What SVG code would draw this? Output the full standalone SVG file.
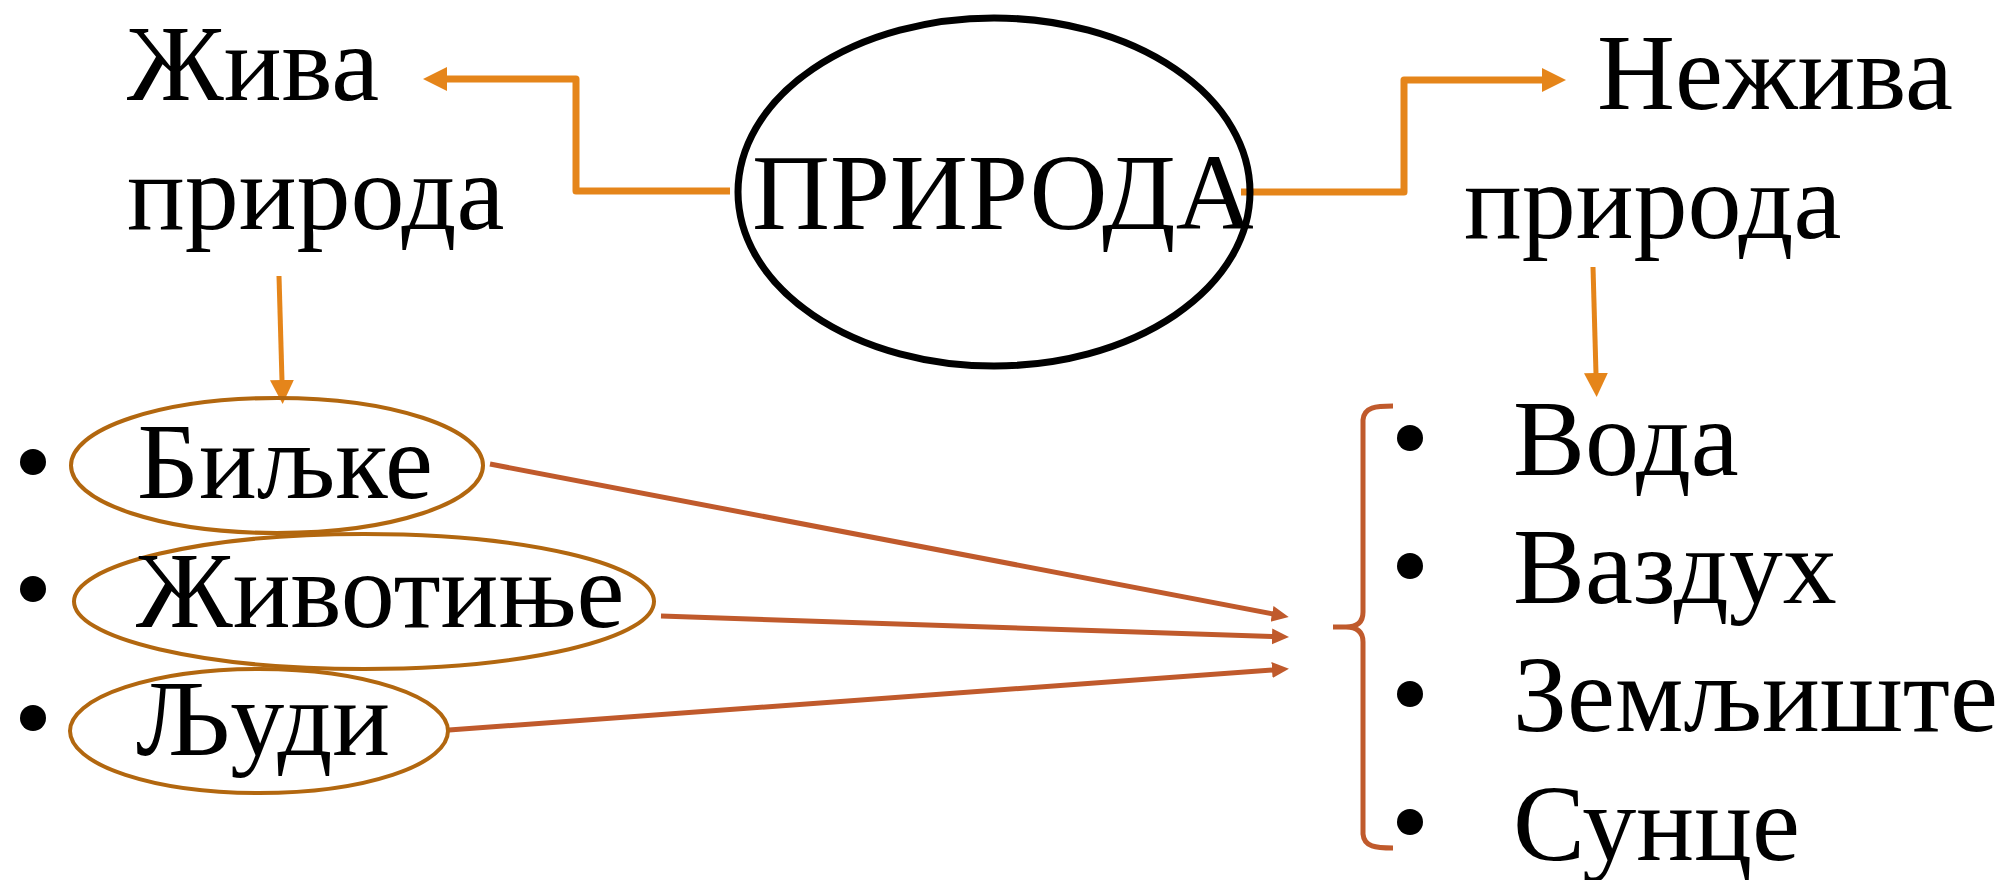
<svg xmlns="http://www.w3.org/2000/svg" width="1997" height="880" viewBox="0 0 1997 880">
<style>
.t{font-family:"Liberation Serif","Times New Roman",serif;font-size:108px;fill:#000}
.oc{fill:none;stroke:#E5851A;stroke-linejoin:round}
.bc{fill:none;stroke:#C05A2C;stroke-width:5}
.be{fill:none;stroke:#B2670F;stroke-width:4}
.dot{fill:#000}
</style>
<defs>
<marker id="oh" markerUnits="userSpaceOnUse" markerWidth="26" markerHeight="26" refX="1" refY="12" orient="auto">
<path d="M0,0 L24,12 L0,24 z" fill="#E5851A"/>
</marker>
<marker id="bh" markerUnits="userSpaceOnUse" markerWidth="20" markerHeight="20" refX="1" refY="8" orient="auto">
<path d="M0,0 L17,8 L0,16 z" fill="#C05A2C"/>
</marker>
</defs>
<rect width="1997" height="880" fill="#fff"/>
<g id="connectors">
<path class="oc" stroke-width="7" d="M730,191 H576 V79 H446" marker-end="url(#oh)"/>
<path class="oc" stroke-width="7" d="M1241,192 H1404 V80 H1543" marker-end="url(#oh)"/>
<path class="oc" stroke-width="5" d="M279,276 L282,381" marker-end="url(#oh)"/>
<path class="oc" stroke-width="5" d="M1593,267 L1596,374" marker-end="url(#oh)"/>
<path class="bc" d="M490,464 L1273,614" marker-end="url(#bh)"/>
<path class="bc" d="M661,616 L1273,636.5" marker-end="url(#bh)"/>
<path class="bc" d="M449,730 L1273,670" marker-end="url(#bh)"/>
</g>
<g id="priroda">
<ellipse cx="994" cy="192" rx="256" ry="174" fill="none" stroke="#000" stroke-width="7"/>
<text class="t" x="752" y="229">ПРИРОДА</text>
</g>
<g id="ziva">
<text class="t" x="127" y="100">Жива</text>
<text class="t" x="127" y="229">природа</text>
</g>
<g id="neziva">
<text class="t" x="1597" y="109">Нежива</text>
<text class="t" x="1464" y="238">природа</text>
</g>
<g id="biljke">
<circle class="dot" cx="33" cy="462" r="13"/>
<ellipse class="be" cx="277" cy="465.5" rx="206" ry="67.5"/>
<text class="t" x="137" y="498">Биљке</text>
</g>
<g id="zivotinje">
<circle class="dot" cx="33" cy="589" r="13"/>
<ellipse class="be" cx="364" cy="601.5" rx="290" ry="67.5"/>
<text class="t" x="136" y="627">Животиње</text>
</g>
<g id="ljudi">
<circle class="dot" cx="33" cy="718" r="13"/>
<ellipse class="be" cx="259" cy="731" rx="189" ry="62"/>
<text class="t" x="136" y="755">Људи</text>
</g>
<g id="nezivo-list">
<path class="bc" d="M1393,406 C1376,406 1364,407 1363,420 L1363,612 Q1363,627 1346,627 L1333,627 M1346,627 Q1363,627 1363,642 L1363,834 C1364,847 1376,848 1393,848"/>
<circle class="dot" cx="1410" cy="438" r="13"/>
<text class="t" x="1513" y="475">Вода</text>
<circle class="dot" cx="1410" cy="566" r="13"/>
<text class="t" x="1513" y="603">Ваздух</text>
<circle class="dot" cx="1410" cy="694" r="13"/>
<text class="t" x="1513" y="731">Земљиште</text>
<circle class="dot" cx="1410" cy="822" r="13"/>
<text class="t" x="1513" y="860">Сунце</text>
</g>
</svg>
